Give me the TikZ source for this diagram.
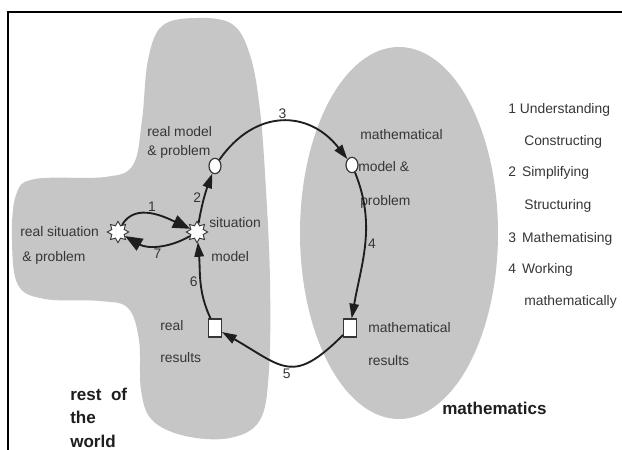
\documentclass[tikz,border=0pt]{standalone}
\usepackage{fontspec}
\setmainfont{Liberation Sans}
\usetikzlibrary{shapes.geometric,arrows.meta}
\definecolor{gris}{HTML}{C6C6C6}
\definecolor{encre}{HTML}{363636}
\definecolor{noir}{HTML}{1E1E1E}
\begin{document}
\begin{tikzpicture}[x=0.75pt,y=0.75pt]
		% Styles (MODIFIABLES)
		\tikzstyle{fleche}=[-{Triangle[length=11pt,width=7pt]},line width=1.4pt,draw=noir]
		\tikzstyle{grosse}=[-{Triangle[length=13pt,width=10pt]}]
		\tikzstyle{etoile}=[star,star points=8,star point ratio=1.6,minimum size=16pt,inner sep=0pt,draw=encre,fill=white,line width=0.7pt]
		\tikzstyle{bulle}=[ellipse,minimum width=9pt,minimum height=11.5pt,inner sep=0pt,draw=encre,fill=white,line width=0.9pt]
		\tikzstyle{carre}=[rectangle,minimum width=9.5pt,minimum height=13.5pt,inner sep=0pt,draw=encre,fill=white,line width=0.9pt]
		\tikzstyle{texte}=[anchor=base west,inner sep=0pt,text=encre,font=\fontsize{10.4}{12}\selectfont]
		\tikzstyle{titre}=[anchor=base west,inner sep=0pt,text=noir,font=\fontsize{12.8}{15}\selectfont\bfseries]
		\tikzstyle{numero}=[text=encre,font=\fontsize{10.4}{12}\selectfont,inner sep=1.5pt]
		% Cadre
		\useasboundingbox (0,0) rectangle (622,-450);
		\draw[line width=1.5pt] (8,-450) -- (8,-12) -- (622,-12);
		% Zones
		\fill[gris] plot[smooth cycle,tension=0.6] coordinates {(195,-18) (232,-24) (250,-55) (260,-110) (266,-190) (270,-280) (269,-370) (260,-420) (230,-438) (185,-436) (152,-420) (141,-390) (139,-340) (128,-308) (100,-301) (45,-299) (18,-285) (12,-240) (16,-195) (35,-179) (105,-177) (133,-165) (142,-120) (148,-60) (162,-26)};
		\fill[gris] (399,-233) ellipse [x radius=99, y radius=186];
		% Noeuds
		\node[etoile] (sitreel) at (118,-232) {};
		\node[etoile] (sitmodele) at (197,-232) {};
		\node[bulle] (modreel) at (215,-166) {};
		\node[bulle] (modmath) at (352,-165) {};
		\node[carre] (resmath) at (350,-328) {};
		\node[carre] (resreel) at (215,-328) {};
		% Textes
		\node[texte] (tsitreel) at (20,-236) {real situation};
		\node[texte] (tsitreelb) at (22,-261) {\& problem};
		\node[texte] (tsitmodele) at (209,-227) {situation};
		\node[texte] (tsitmodeleb) at (211,-261) {model};
		\node[texte] (tmodreel) at (147,-136) {real model};
		\node[texte] (tmodreelb) at (147,-155) {\& problem};
		\node[texte] (tmodmath) at (360,-139) {mathematical};
		\node[texte] (tmodmathb) at (358,-171) {model \&};
		\node[texte] (tmodmathc) at (360,-205) {problem};
		\node[texte] (tresmath) at (368,-332) {mathematical};
		\node[texte] (tresmathb) at (368,-365) {results};
		\node[texte] (tresreel) at (160,-330) {real};
		\node[texte] (tresreelb) at (160,-362) {results};
		\node[titre] (monde) at (70,-400) {rest\ \ of};
		\node[titre] (mondeb) at (70,-423) {the};
		\node[titre] (mondec) at (70,-447) {world};
		\node[titre] (maths) at (442,-414) {mathematics};
		% Legende
		\node[texte] (etape1) at (508,-113) {1 Understanding};
		\node[texte] (etape1b) at (524,-145) {Constructing};
		\node[texte] (etape2) at (508,-176) {2\, Simplifying};
		\node[texte] (etape2b) at (524,-209) {Structuring};
		\node[texte] (etape3) at (508,-242) {3\, Mathematising};
		\node[texte] (etape4) at (508,-273) {4\, Working};
		\node[texte] (etape4b) at (524,-305) {mathematically};
		% Arcs
		\draw[fleche,grosse] (sitreel) to[out=60,in=155] node[numero,above]{1} (sitmodele);
		\draw[fleche,grosse] (sitmodele) to[out=-150,in=-30] node[numero,below]{7} (sitreel);
		\draw[fleche] (sitmodele) to[out=80,in=-110] node[numero,left]{2} (modreel);
		\draw[fleche] (modreel) to[out=55,in=128,looseness=1.25] node[numero,above]{3} (modmath);
		\draw[fleche] (modmath) to[out=-68,in=80] node[numero,right]{4} (resmath);
		\draw[fleche] (resmath) to[out=-135,in=-30,looseness=1.5] node[numero,below]{5} (resreel);
		\draw[fleche] (resreel) to[out=115,in=-85] node[numero,left]{6} (sitmodele);
\end{tikzpicture}
\end{document}
